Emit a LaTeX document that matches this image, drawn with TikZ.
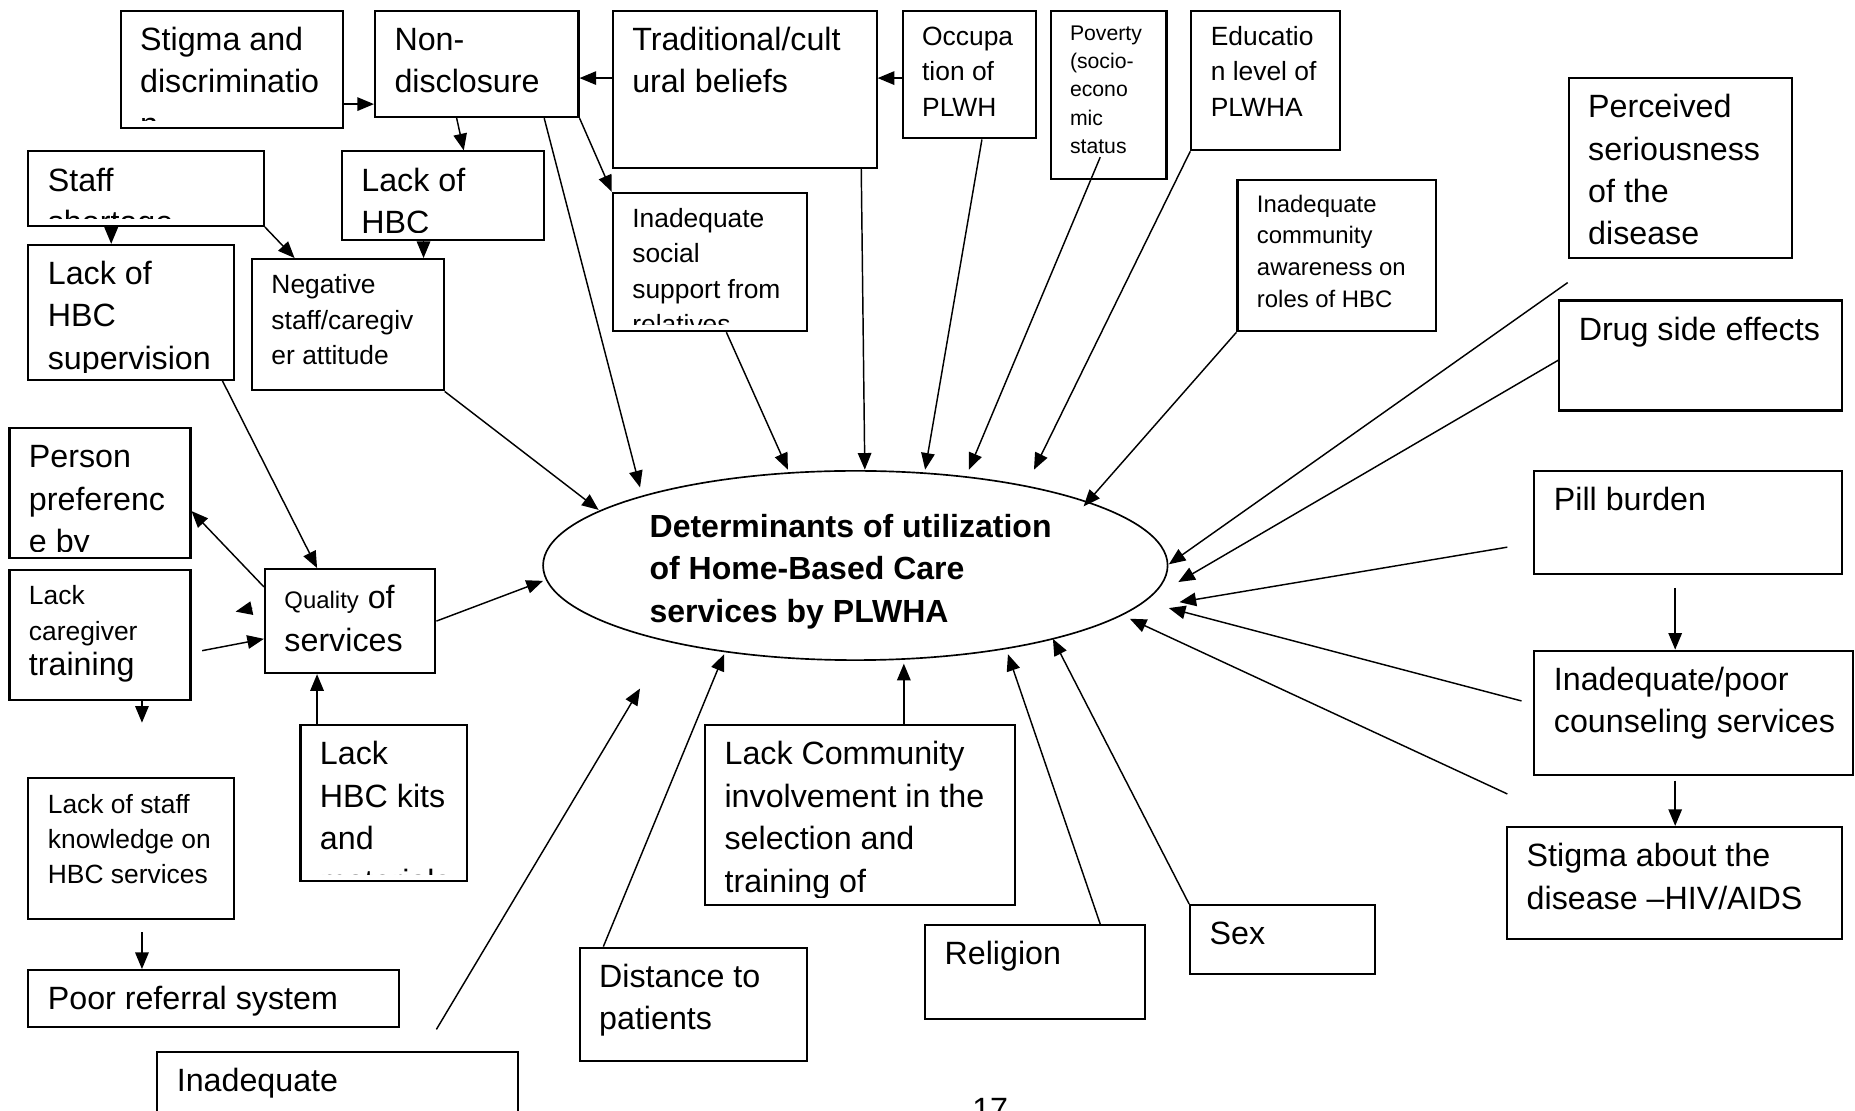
\documentclass[tikz,border=0pt]{standalone}
\usepackage{fontspec}
\setmainfont{Liberation Sans}
\usetikzlibrary{arrows.meta,shapes.geometric,fit,calc}

\newcommand{\bigtxt}{\fontsize{15.5}{20.4}\selectfont}
\newcommand{\midtxt}{\fontsize{12.7}{17}\selectfont}
\newcommand{\smalltxt}{\fontsize{11.5}{15.3}\selectfont}
\newcommand{\tinytxt}{\fontsize{10.2}{13.6}\selectfont}

\newcommand{\factorbox}[7]{%
  \path (#2,#3) coordinate (#1-a) (#4,#5) coordinate (#1-b);
  \node[box, fit=(#1-a)(#1-b)] (#1) {};
  \begin{scope}
    \clip (#1.north west) rectangle ($(#1.south east)+(0,-7)$);
    \node[boxtext, font=#6] (#1-txt) at ($(#1.north west)+(17,9)$) {\strut #7};
  \end{scope}}

\begin{document}
\begin{tikzpicture}[x=0.02cm, y=-0.02cm,
    box/.style={draw, line width=1pt, inner sep=0pt},
    boxtext/.style={anchor=north west, inner sep=0pt, align=left},
    link/.style={line width=0.7pt},
    arr/.style={link, -{Triangle[length=8pt,width=6.5pt]}},
    hub/.style={draw, ellipse, line width=0.8pt, inner sep=0pt,
      minimum width=10.56cm, minimum height=3.2cm}]
\useasboundingbox (0,0) rectangle (1568,939);
\clip (0,0) rectangle (1568,939);

\factorbox{stigma}{102}{9}{290}{108}{\bigtxt}{Stigma and\\discriminatio\\n}
\factorbox{nondisc}{317}{9}{489}{99}{\bigtxt}{Non-\\disclosure}
\factorbox{tradition}{518}{9}{741}{142}{\bigtxt}{Traditional/cult\\ural beliefs}
\factorbox{occup}{763}{9}{876}{117}{\midtxt}{Occupa\\tion of\\PLWH}
\factorbox{poverty}{888}{9}{986}{151}{\tinytxt}{Poverty\\(socio-\\econo\\mic\\status}
\factorbox{educ}{1007}{9}{1133}{127}{\midtxt}{Educatio\\n level of\\PLWHA}
\factorbox{perceived}{1326}{66}{1515}{218}{\bigtxt}{Perceived\\seriousness\\of the\\disease}
\factorbox{awareness}{1046}{152}{1214}{280}{\smalltxt}{Inadequate\\community\\awareness on\\roles of HBC}
\factorbox{drugs}{1318}{254}{1557}{347}{\bigtxt}{Drug side effects}
\factorbox{staff}{24}{128}{223}{191}{\bigtxt}{Staff\\shortage}
\factorbox{lackhbc}{289}{128}{460}{203}{\bigtxt}{Lack of\\HBC}
\factorbox{social}{518}{163}{682}{280}{\midtxt}{Inadequate\\social\\support from\\relatives}
\factorbox{superv}{24}{207}{198}{321}{\bigtxt}{Lack of\\HBC\\supervision}
\factorbox{attitude}{213}{219}{375}{330}{\midtxt}{Negative\\staff/caregiv\\er attitude}
\factorbox{prefer}{8}{362}{161}{472}{\bigtxt}{Person\\preferenc\\e by}
\factorbox{training}{8}{482}{161}{592}{\midtxt}{Lack\\caregiver\\\bigtxt training}
\factorbox{quality}{224}{481}{368}{569}{\bigtxt}{{\smalltxt Quality} of\\services}
\factorbox{kits}{254}{613}{395}{745}{\bigtxt}{Lack\\HBC kits\\and\\materials}
\factorbox{knowledge}{24}{658}{198}{777}{\midtxt}{Lack of staff\\knowledge on\\HBC services}
\factorbox{referral}{24}{820}{337}{868}{\bigtxt}{Poor referral system}
\factorbox{inadeq}{133}{889}{438}{990}{\bigtxt}{Inadequate}
\factorbox{distance}{490}{801}{682}{897}{\bigtxt}{Distance to\\patients}
\factorbox{involve}{596}{613}{858}{765}{\bigtxt}{Lack Community\\involvement in the\\selection and\\training of}
\factorbox{religion}{782}{782}{968}{861}{\bigtxt}{Religion}
\factorbox{sex}{1006}{765}{1162}{823}{\bigtxt}{Sex}
\factorbox{pill}{1297}{398}{1557}{485}{\bigtxt}{Pill burden}
\factorbox{counsel}{1297}{550}{1566}{655}{\bigtxt}{Inadequate/poor\\counseling services}
\factorbox{stigmadis}{1274}{699}{1557}{794}{\bigtxt}{Stigma about the\\disease --HIV/AIDS}

\node[hub] (ell) at (723,478) {};
\node[align=left, inner sep=0pt, font=\fontsize{15.4}{20.5}\selectfont\bfseries] (ell-txt)
  at ($(ell)+(-4,5)$) {Determinants of utilization\\of Home-Based Care\\services by PLWHA};
\node[font=\bigtxt, anchor=base] (page) at (837,947) {17};

\coordinate (perc-free) at ($(perceived.south west)+(0,20)$);
\coordinate (pill-free) at ($(pill.west)+(-22,21)$);
\coordinate (couns-free) at ($(counsel.west)+(-10,-10)$);
\coordinate (stig-free) at ($(stigmadis.north west)+(1,-27)$);
\coordinate (inad-free) at ($(inadeq.north east)+(-70,-18)$);
\coordinate (inad-end) at ($(ell)+(-182,104)$);
\coordinate (train-free) at ($(training.east)+(9,13)$);
\coordinate (train-end) at ($(120,0 |- training.south)+(0,18)$);
\coordinate (stray-a) at ($(quality.west)+(-10,-11)$);
\coordinate (stray-b) at ($(quality.west)+(-24,-8)$);

\draw[arr] (stigma.east |- 0,88) -- (nondisc.west |- 0,88);
\draw[arr] (tradition.west |- 0,66) -- (nondisc.east |- 0,66);
\draw[arr] (occup.west |- 0,66) -- (tradition.east |- 0,66);
\draw[arr] (386,0 |- nondisc.south) -- (392,0 |- lackhbc.north);
\draw[arr] (nondisc.south east) -- (social.north west);
\draw[arr] (94,0 |- staff.south) -- (94,0 |- superv.north);
\draw[arr] (staff.south east) -- (249,0 |- attitude.north);
\draw[arr] (358,0 |- lackhbc.south) -- (358,0 |- attitude.north);
\draw[arr] (188,0 |- superv.south) -- (268,0 |- quality.north);
\draw[arr] (268,0 |- kits.north) -- (268,0 |- quality.south);
\draw[arr] ($(quality.north west)+(0,16)$) -- ($(prefer.east)+(0,15)$);
\draw[arr] (stray-a) -- (stray-b);
\draw[arr] (train-free) -- ($(quality.west)+(0,15)$);
\draw[arr] (120,0 |- training.south) -- (train-end);
\draw[arr] ($(120,0 |- knowledge.south)+(0,10)$) -- (120,0 |- referral.north);

\draw[arr] (quality.east) -- ($(ell)+(-264,13)$);
\draw[arr] (attitude.south east) -- ($(ell)+(-217,-47)$);
\draw[arr] (460,0 |- nondisc.south) -- ($(ell)+(-182,-66)$);
\draw[arr] (614,0 |- social.south) -- ($(ell)+(-57,-81)$);
\draw[arr] (728,0 |- tradition.south) -- ($(ell)+(8,-81)$);
\draw[arr] (830,0 |- occup.south) -- ($(ell)+(59,-81)$);
\draw[arr] ($(poverty.south)+(-7,-19)$) -- ($(ell)+(96,-81)$);
\draw[arr] (educ.south west) -- ($(ell)+(151,-81)$);
\draw[arr] (awareness.south west) -- ($(ell)+(193,-50)$);
\draw[arr] (perc-free) -- ($(ell)+(265,-1)$);
\draw[arr] ($(drugs.west)+(0,4)$) -- ($(ell)+(273,14)$);
\draw[arr] (pill-free) -- ($(ell)+(274,31)$);
\draw[arr] (couns-free) -- ($(ell)+(265,36)$);
\draw[arr] (stig-free) -- ($(ell)+(232,45)$);
\draw[arr] (sex.north west) -- ($(ell)+(167,62)$);
\draw[arr] (930,0 |- religion.north) -- ($(ell)+(129,75)$);
\draw[arr] (764,0 |- involve.north) -- ($(ell)+(41,83)$);
\draw[arr] (510,0 |- distance.north) -- ($(ell)+(-111,75)$);
\draw[arr] (inad-free) -- (inad-end);
\draw[arr] ($(1416,0 |- pill.south)+(0,11)$) -- (1416,0 |- counsel.north);
\draw[arr] ($(1416,0 |- counsel.south)+(0,4)$) -- (1416,0 |- stigmadis.north);
\end{tikzpicture}
\end{document}
